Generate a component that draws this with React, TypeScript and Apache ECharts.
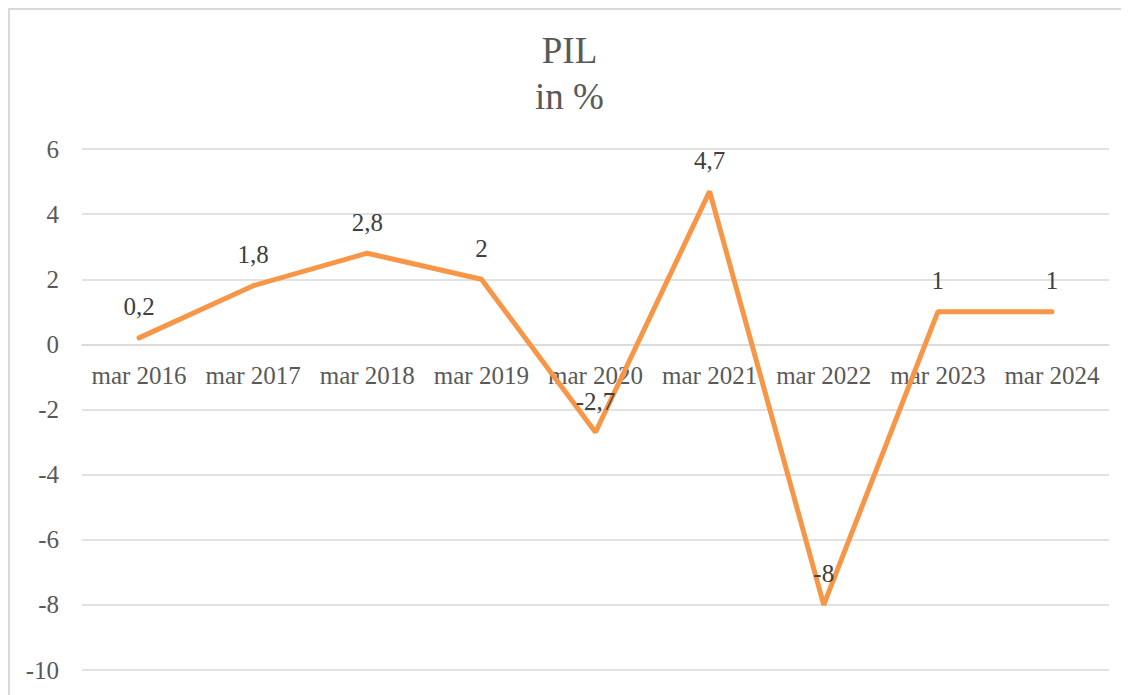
import React, { useEffect, useRef } from "react";
import * as echarts from "echarts";

const categories = ["mar 2016", "mar 2017", "mar 2018", "mar 2019", "mar 2020", "mar 2021", "mar 2022", "mar 2023", "mar 2024"];
const pilValues = [0.2, 1.8, 2.8, 2, -2.7, 4.7, -8, 1, 1];
const titleLines = ["PIL", "in %"];
const yMin = -10;
const yMax = 6;
const yStep = 2;

const FONT = "'Liberation Serif', 'Times New Roman', serif";

const GRID_TOP = 139;
const GRID_BOTTOM = 25;
const CHART_H = 685;

export default function App() {
  const ref = useRef<HTMLDivElement>(null);
  useEffect(() => {
    if (!ref.current) return;
    const chart = echarts.init(ref.current, undefined, { renderer: "svg" });
    const gridH = CHART_H - GRID_TOP - GRID_BOTTOM;
    const zeroFromBottom = (gridH * (0 - yMin)) / (yMax - yMin);
    chart.setOption({
      animation: false,
      backgroundColor: "#ffffff",
      title: {
        text: titleLines.join("\n"),
        left: "center",
        top: 12,
        textStyle: { fontFamily: FONT, fontSize: 37, fontWeight: "normal", color: "#595959", lineHeight: 46 },
      },
      grid: { left: 72, right: 20, top: GRID_TOP, bottom: GRID_BOTTOM, containLabel: false, outerBoundsMode: "none" },
      xAxis: {
        type: "category",
        data: categories,
        boundaryGap: true,
        position: "bottom",
        offset: -zeroFromBottom,
        axisTick: { show: false },
        axisLine: { show: true, onZero: false, lineStyle: { color: "#d9d9d9", width: 1.5 } },
        axisLabel: { interval: 0, color: "#595959", fontFamily: FONT, fontSize: 25, margin: 19, hideOverlap: false },
      },
      yAxis: {
        type: "value",
        min: yMin,
        max: yMax,
        interval: yStep,
        axisLine: { show: false },
        axisTick: { show: false },
        splitLine: { lineStyle: { color: "#d9d9d9", width: 1.5 } },
        axisLabel: { color: "#595959", fontFamily: FONT, fontSize: 25, margin: 23 },
      },
      series: [
        {
          type: "line",
          data: pilValues,
          symbol: "circle",
          symbolSize: 1,
          z: 3,
          itemStyle: { color: "#F79646" },
          lineStyle: { color: "#F79646", width: 5, cap: "round" },
          label: {
            show: true,
            position: "top",
            distance: 18,
            color: "#404040",
            fontFamily: FONT,
            fontSize: 25,
            formatter: (p: any) => String(p.value).replace(".", ","),
          },
        },
      ],
    });
    return () => chart.dispose();
  }, []);
  return (
    <div
      style={{
        width: 1121,
        height: 687,
        boxSizing: "border-box",
        borderTop: "2px solid #d9d9d9",
        borderLeft: "2px solid #d9d9d9",
        overflow: "hidden",
      }}
    >
      <div ref={ref} style={{ width: 1119, height: CHART_H }} />
    </div>
  );
}
